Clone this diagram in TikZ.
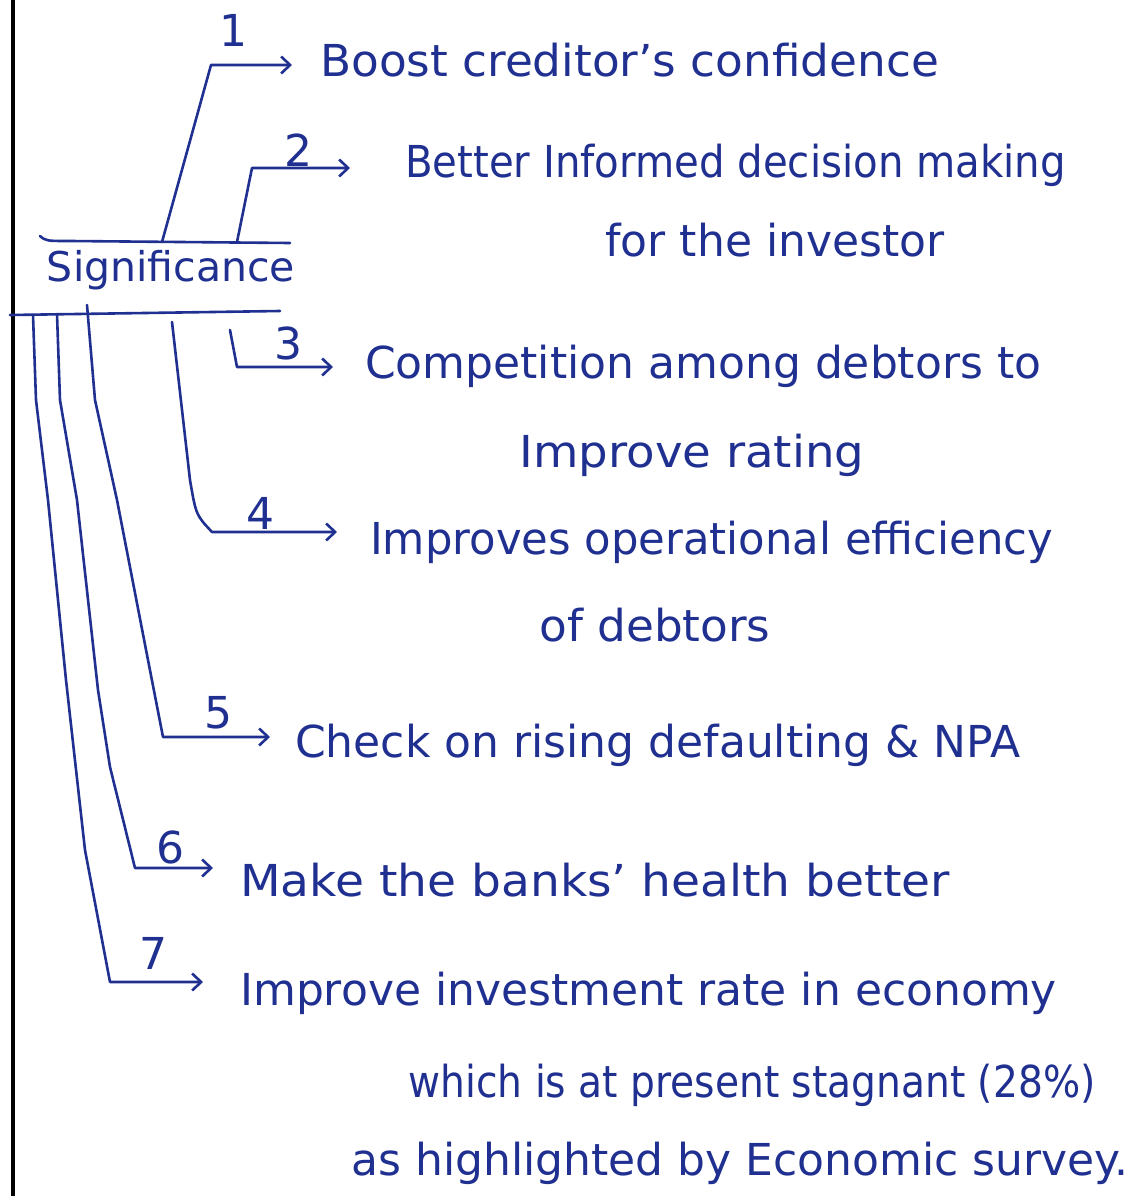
\documentclass[tikz,border=0pt]{standalone}
\usepackage{graphicx}
\usepackage{fontspec}
\setmainfont{DejaVu Sans}
\usetikzlibrary{arrows.meta}
\definecolor{ink}{RGB}{32,48,145}
\begin{document}
\begin{tikzpicture}[x=1pt,y=-1pt,
  inkline/.style={draw=ink,line width=2.6pt,line cap=round,line join=round},
  branch/.style={inkline,-{Straight Barb[length=9pt,width=17pt]}},
  item/.style={text=ink,font=\fontsize{44}{44}\selectfont,anchor=west,inner sep=0pt},
  more/.style={text=ink,font=\fontsize{44}{44}\selectfont,inner sep=0pt},
  num/.style={text=ink,font=\fontsize{44}{44}\selectfont,inner sep=0pt}]
\useasboundingbox (0,0) rectangle (1131,1196);
\fill[white] (0,0) rectangle (1131,1196);

% page margin rule
\draw[line width=4pt,black] (13,0) -- (13,1196);

% central heading with its two rules
\node[more,font=\fontsize{41}{41}\selectfont] (sig) at (171,270) {Significance};
\draw[inkline] (40,236) .. controls (46,241) .. (70,241) -- (290,243);
\draw[inkline] (10,315) -- (280,311);

% branch anchor points on the rules
\coordinate (s1) at (162,242);
\coordinate (s2) at (237,242);
\coordinate (s3) at (230,330);
\coordinate (s4) at (172,322);
\coordinate (s5) at (87,305);
\coordinate (s6) at (57,314);
\coordinate (s7) at (33,315);

% bends of the branches
\coordinate (k1) at (211,65);
\coordinate (k2) at (252,168);
\coordinate (k3) at (237,367);
\coordinate (k4) at (212,532);
\coordinate (k5) at (163,737);
\coordinate (k6) at (135,868);
\coordinate (k7) at (110,982);

% points
\node[item] (t1) at (320,60) {\scalebox{1.03}[1]{Boost creditor's confidence}};
\node[item] (t2) at (405,165) {\scalebox{0.915}[1]{Better Informed decision making}};
\node[more] (t2b) at (775,240) {for the investor};
\node[item] (t3) at (365,366) {Competition among debtors to};
\node[more] (t3b) at (692,455) {\scalebox{1.06}[1]{Improve rating}};
\node[item] (t4) at (370,542) {\scalebox{0.985}[1]{Improves operational efficiency}};
\node[more] (t4b) at (655,625) {\scalebox{1.03}[1]{of debtors}};
\node[item] (t5) at (295,745) {Check on rising defaulting \& NPA};
\node[item] (t6) at (240,880) {\scalebox{1.07}[1]{Make the banks' health better}};
\node[item] (t7) at (240,993) {Improve investment rate in economy};
\node[more] (t7b) at (752,1085) {\scalebox{0.89}[1]{which is at present stagnant (28\%)}};
\node[more] (t7c) at (740,1163) {as highlighted by Economic survey.};

% numbers
\node[num] (n1) at (233,30) {1};
\node[num] (n2) at (298,150) {2};
\node[num] (n3) at (288,343) {3};
\node[num] (n4) at (260,513) {4};
\node[num] (n5) at (218,713) {5};
\node[num] (n6) at (170,847) {6};
\node[num] (n7) at (153,953) {7};

% connectors
\draw[branch,shorten >=28pt] (s1) -- (k1) -- (k1 -| t1.west);
\draw[branch,shorten >=55pt] (s2) -- (k2) -- (k2 -| t2.west);
\draw[branch,shorten >=32pt] (s3) -- (k3) -- (k3 -| t3.west);
\draw[branch,shorten >=33pt] (s4) -- (190,480) .. controls (196,515) .. (k4) -- (k4 -| t4.west);
\draw[branch,shorten >=25pt] (s5) -- (95,400) -- (117,500) -- (148,660) -- (k5) -- (k5 -| t5.west);
\draw[branch,shorten >=27pt] (s6) -- (60,400) -- (77,500) -- (98,690) -- (110,767) -- (k6) -- (k6 -| t6.west);
\draw[branch,shorten >=37pt] (s7) -- (36,400) -- (48,500) -- (66,680) -- (85,850) -- (k7) -- (k7 -| t7.west);
\end{tikzpicture}
\end{document}
